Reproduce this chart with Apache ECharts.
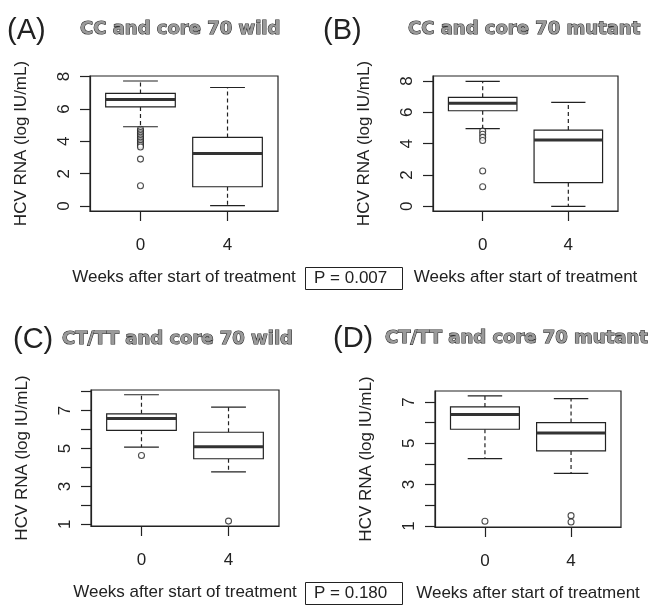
<!DOCTYPE html>
<html><head><meta charset="utf-8">
<script src="https://cdn.jsdelivr.net/npm/echarts@6/dist/echarts.min.js"></script>
<style>html,body{margin:0;padding:0;background:#fff}#c{width:659px;height:614px}</style>
</head><body><div id="c"></div>
<script>
// ---------- data ----------
const weekLabels = ['0', '4'];
const xPositions = [1, 2];
// boxplot stats: [x, lowerWhisker, Q1, median, Q3, upperWhisker]
const statsA = [[1, 4.90, 6.13, 6.59, 6.96, 7.73], [2, 0.02, 1.19, 3.25, 4.24, 7.33]];
const statsB = [[1, 4.96, 6.10, 6.58, 6.96, 7.98], [2, 0.00, 1.51, 4.23, 4.87, 6.64]];
const statsC = [[1, 5.07, 5.96, 6.58, 6.83, 7.84], [2, 3.77, 4.46, 5.10, 5.86, 7.19]];
const statsD = [[1, 4.26, 5.68, 6.39, 6.76, 7.29], [2, 3.54, 4.63, 5.50, 6.00, 7.16]];
// outliers: [x, value]
const outliersA = [[1, 4.75], [1, 4.65], [1, 4.55], [1, 4.45], [1, 4.35], [1, 4.25], [1, 4.15],
                   [1, 4.05], [1, 3.95], [1, 3.85], [1, 3.75], [1, 3.65], [1, 2.90], [1, 1.25]];
const outliersB = [[1, 4.80], [1, 4.60], [1, 4.40], [1, 4.20], [1, 2.25], [1, 1.25]];
const outliersC = [[1, 4.63], [2, 1.17]];
const outliersD = [[1, 1.23], [2, 1.50], [2, 1.19]];
// axis ticks / labels
const yTicksAB = [0, 2, 4, 6, 8];
const yTicksC = [1, 2, 3, 4, 5, 6, 7, 8];
const yTicksD = [1, 2, 3, 4, 5, 6, 7];
const yLabelsCD = [1, 3, 5, 7];
const panelLetters = ['(A)', '(B)', '(C)', '(D)'];
const panelTitles = ['CC and core 70 wild', 'CC and core 70 mutant', 'CT/TT and core 70 wild', 'CT/TT and core 70 mutant'];
const xAxisTitle = 'Weeks after start of treatment';
const yAxisTitle = 'HCV RNA (log IU/mL)';
const pValues = ['P = 0.007', 'P = 0.180'];

// ---------- layout ----------
const FONT = 'Liberation Sans, Arial, sans-serif';
const INK = '#222';
const panels = [
  {stats: statsA, out: outliersA, yMin: -0.31, yMax: 8.04, ticks: yTicksAB, labels: yTicksAB, grid: {left: 90, top: 76, width: 188, height: 135}},
  {stats: statsB, out: outliersB, yMin: -0.30, yMax: 8.32, ticks: yTicksAB, labels: yTicksAB, grid: {left: 433, top: 76, width: 185, height: 135}},
  {stats: statsC, out: outliersC, yMin: 0.91, yMax: 8.09, ticks: yTicksC, labels: yLabelsCD, grid: {left: 91, top: 390, width: 188, height: 136}},
  {stats: statsD, out: outliersD, yMin: 0.95, yMax: 7.53, ticks: yTicksD, labels: yLabelsCD, grid: {left: 435, top: 391, width: 186, height: 136}}
];

function renderBox(params, api) {
  const x = api.value(0);
  const lo = api.value(1), q1 = api.value(2), med = api.value(3), q3 = api.value(4), hi = api.value(5);
  const halfW = api.size([0.8, 0])[0] / 2;
  const capHalf = halfW / 2;
  const c = v => api.coord([x, v]);
  const pLo = c(lo), pQ1 = c(q1), pMed = c(med), pQ3 = c(q3), pHi = c(hi);
  const cx = pMed[0];
  const solid = {stroke: INK, lineWidth: 1.2};
  const dashed = {stroke: INK, lineWidth: 1.2, lineDash: [4, 3]};
  return {type: 'group', children: [
    {type: 'line', shape: {x1: cx, y1: pQ3[1], x2: cx, y2: pHi[1]}, style: dashed},
    {type: 'line', shape: {x1: cx, y1: pQ1[1], x2: cx, y2: pLo[1]}, style: dashed},
    {type: 'line', shape: {x1: cx - capHalf, y1: pHi[1], x2: cx + capHalf, y2: pHi[1]}, style: solid},
    {type: 'line', shape: {x1: cx - capHalf, y1: pLo[1], x2: cx + capHalf, y2: pLo[1]}, style: solid},
    {type: 'rect', shape: {x: cx - halfW, y: pQ3[1], width: 2 * halfW, height: pQ1[1] - pQ3[1]},
     style: {stroke: INK, lineWidth: 1.2, fill: '#fff'}},
    {type: 'line', shape: {x1: cx - halfW, y1: pMed[1], x2: cx + halfW, y2: pMed[1]}, style: {stroke: '#333', lineWidth: 3}}
  ]};
}

const grids = [], xAxes = [], yAxes = [], series = [];
panels.forEach((p, i) => {
  grids.push(Object.assign({show: true, borderColor: INK, borderWidth: 1.2, backgroundColor: 'transparent'}, p.grid));
  xAxes.push({
    type: 'value', gridIndex: i, min: 0.42, max: 2.58,
    splitLine: {show: false},
    axisLine: {show: true, onZero: false, lineStyle: {color: INK, width: 1.2}},
    axisTick: {show: true, customValues: xPositions, length: 10, lineStyle: {color: INK, width: 1.2}},
    axisLabel: {customValues: xPositions, formatter: v => weekLabels[Math.round(v) - 1],
                margin: 26, fontSize: 17, fontFamily: FONT, color: INK},
    name: xAxisTitle, nameLocation: 'middle', nameGap: 58,
    nameTextStyle: {fontSize: 17, fontFamily: FONT, color: INK}
  });
  yAxes.push({
    type: 'value', gridIndex: i, min: p.yMin, max: p.yMax,
    splitLine: {show: false},
    axisLine: {show: true, onZero: false, lineStyle: {color: INK, width: 1.2}},
    axisTick: {show: true, customValues: p.ticks, length: 10, lineStyle: {color: INK, width: 1.2}},
    axisLabel: {customValues: p.labels, rotate: 90, margin: 17, fontSize: 17, fontFamily: FONT, color: INK},
    name: yAxisTitle, nameLocation: 'middle', nameGap: 60, nameRotate: 90,
    nameTextStyle: {fontSize: 17, fontFamily: FONT, color: INK}
  });
  series.push({
    type: 'custom', xAxisIndex: i, yAxisIndex: i, renderItem: renderBox,
    encode: {x: 0, y: [1, 2, 3, 4, 5]}, data: p.stats, z: 2
  });
  series.push({
    type: 'scatter', xAxisIndex: i, yAxisIndex: i, data: p.out, symbol: 'circle', symbolSize: 6,
    itemStyle: {color: '#fff', borderColor: INK, borderWidth: 1.1}, z: 3
  });
});

const letterPos = [[7, 16], [323, 16], [13, 325], [333, 324]];
const titlePos = [[80, 20], [408, 20], [62, 330], [385, 329]];
const titles = [];
panelLetters.forEach((t, i) => {
  titles.push({text: t, left: letterPos[i][0], top: letterPos[i][1], padding: 0,
    textStyle: {fontSize: 29, fontWeight: 'normal', fontFamily: FONT, color: INK}});
  titles.push({text: panelTitles[i], left: titlePos[i][0], top: titlePos[i][1], padding: 0,
    textStyle: {fontSize: 18, fontWeight: 'bold', fontFamily: 'DejaVu Sans', color: '#9a9a9a',
                textBorderColor: '#2a2a2a', textBorderWidth: 1.1}});
});
const pPos = [[305, 267], [305, 582]];
pValues.forEach((t, i) => {
  titles.push({text: t, left: pPos[i][0], top: pPos[i][1], padding: [3, 15, 3, 9],
    borderColor: INK, borderWidth: 1,
    textStyle: {fontSize: 17, fontWeight: 'normal', fontFamily: FONT, color: INK}});
});

const chart = echarts.init(document.getElementById('c'), null, {renderer: 'canvas'});
chart.setOption({
  animation: false,
  backgroundColor: '#fff',
  title: titles,
  grid: grids, xAxis: xAxes, yAxis: yAxes, series: series
});
</script></body></html>
